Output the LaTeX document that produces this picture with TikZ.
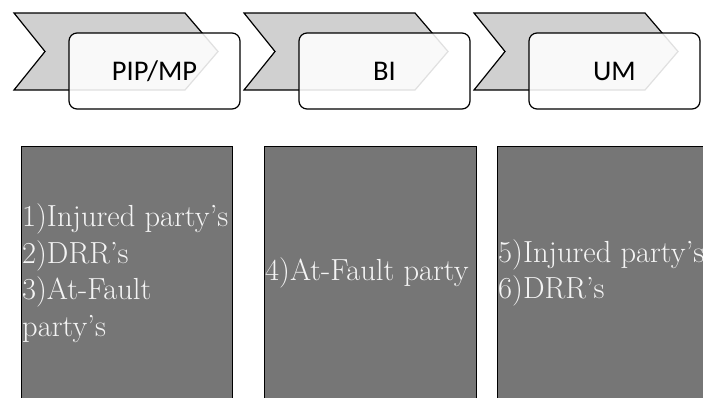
\documentclass[tikz,border=0pt]{standalone}
\usepackage{fontspec}
\usepackage{tikz}
\usetikzlibrary{positioning}
\newfontfamily\tabfont{Carlito}
\definecolor{chevrongray}{RGB}{208, 208, 208}
\definecolor{cellgray}{RGB}{118, 118, 118}
\definecolor{notewhite}{RGB}{244, 244, 244}

\begin{document}
\begin{tikzpicture}[
    x=1pt, y=-1pt,
    chevron/.style={draw=black, fill=chevrongray, line width=1.2pt, line join=miter},
    tab/.style={draw=black, fill=white, fill opacity=0.88, text opacity=1, rounded corners=8pt, line width=1.2pt, minimum width=171pt, minimum height=76pt, font=\tabfont\fontsize{28.5}{34}\selectfont},
    cell/.style={draw=black, fill=cellgray, line width=1pt, minimum width=211pt, minimum height=254pt, inner sep=0pt},
    note/.style={text=notewhite, align=left, inner xsep=1.5pt, inner ysep=0pt, font=\fontsize{30.5}{36.5}\selectfont}
]
\useasboundingbox (0,0) rectangle (703,397);
\clip (0,0) rectangle (703,397);

% Chevrons
\draw[chevron] (14,13) -- (185,13) -- (218,51.5) -- (185,90) -- (14,90) -- (45,51.5) -- cycle;
\draw[chevron] (244,13) -- (415,13) -- (448,51.5) -- (415,90) -- (244,90) -- (275,51.5) -- cycle;
\draw[chevron] (474,13) -- (645,13) -- (678,51.5) -- (645,90) -- (474,90) -- (505,51.5) -- cycle;

% Coverage tabs
\node[tab] (pip) at (154.5,71) {PIP/MP};
\node[tab] (bi) at (384.5,71) {BI};
\node[tab] (um) at (614.5,71) {UM};

% Claim cells
\node[cell] (pipcell) at (126.5,273) {};
\node[cell, minimum width=212pt] (bicell) at (370,273) {};
\node[cell] (umcell) at (602.5,273) {};

% Notes
\node[note, right=0pt of pipcell.west] (pipnote) {1)Injured party’s\\2)DRR’s\\3)At-Fault\\party’s};
\node[note, right=0pt of bicell.west] (binote) {4)At-Fault party};
\node[note, right=0pt of umcell.west] (umnote) {5)Injured party’s\\6)DRR’s};

\end{tikzpicture}
\end{document}
